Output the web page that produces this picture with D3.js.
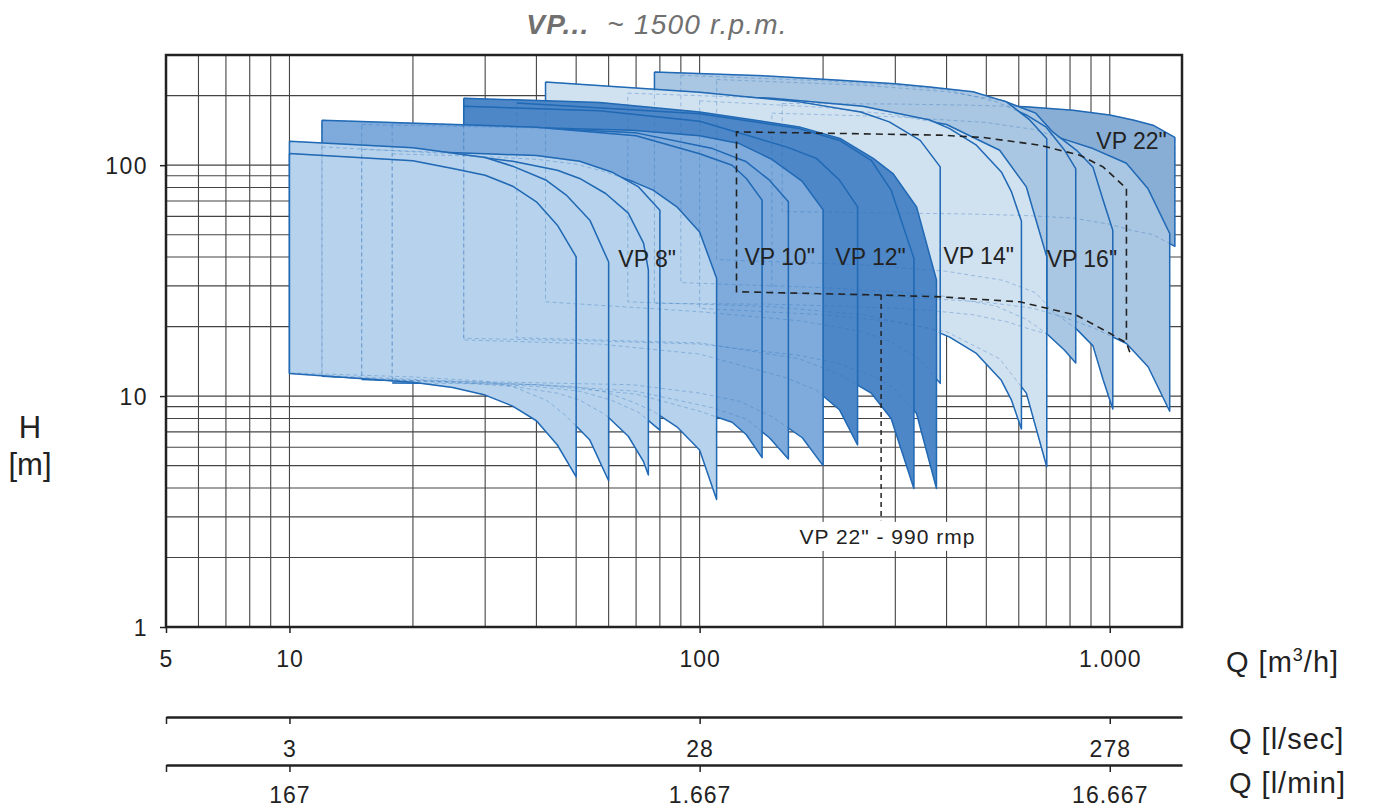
<!DOCTYPE html>
<html>
<head>
<meta charset="utf-8">
<script src="https://cdn.jsdelivr.net/npm/d3@7"></script>
<style>
  body { margin: 0; background: #fff; }
</style>
</head>
<body>
<div id="plot"></div>
<script>
// axis ticks and labels
const qTicks = [5, 10, 100, 1000];
const qLabels = ["5", "10", "100", "1.000"];
const lsLabels = ["", "3", "28", "278"];
const lmLabels = ["", "167", "1.667", "16.667"];
const hTicks = [1, 10, 100];
const hLabels = ["1", "10", "100"];
const qGrid = [6, 7, 8, 9, 10, 20, 30, 40, 50, 60, 70, 80, 90, 100, 200, 300, 400, 500, 600, 700, 800, 900, 1000];
const hGrid = [2, 3, 4, 5, 6, 7, 8, 9, 10, 20, 30, 40, 50, 60, 70, 80, 90, 100, 200];

// pump fields: q = flow [m3/h], top = head with max stages [m], bot = head with one stage [m]
const vp22a = { q: [159, 300, 450, 626, 814, 1000, 1140, 1275, 1441], top: [185, 184, 182, 179, 173, 165, 157, 149, 132], bot: [63, 62, 61.5, 60.5, 59, 55.5, 52, 50, 44.5] };

const vp16d = { q: [150, 300, 500, 650, 769, 910, 1098, 1240, 1400], top: [168, 162, 153, 143, 130, 118, 102, 79, 50.6], bot: [28, 27, 25.5, 24, 22, 19.8, 16.9, 13.4, 8.6] };
const vp16c = { q: [110, 250, 400, 550, 660, 727, 830, 910, 963, 1017], top: [235, 222, 208, 190, 168, 139, 116, 98, 70.6, 52.3], bot: [39, 37, 34.7, 31.7, 28, 23.2, 19.5, 16.5, 11.8, 8.8] };
const vp16b = { q: [90, 200, 300, 400, 529, 626, 700, 776, 826], top: [245, 232, 222, 212, 188, 165, 146, 116, 96.7], bot: [31, 29.5, 28.3, 27, 24.5, 21.5, 18.7, 15.8, 13.9] };
const vp16a = { q: [77.6, 150, 220, 300, 364, 464, 560, 638, 702], top: [253, 243, 233, 225, 218, 208, 188, 157, 130], bot: [25.2, 25, 24.5, 24, 23.5, 22.5, 21, 19.5, 18.6] };

const vp14c = { q: [100, 200, 300, 400, 539, 626, 702], top: [190, 178, 165, 150, 116, 80.5, 40.1], bot: [24, 22.5, 21, 19, 14.5, 10.3, 4.94] };
const vp14b = { q: [66.8, 150, 250, 364, 407, 473, 544, 576, 609], top: [205, 195, 180, 157, 144, 122, 93.5, 76.6, 57.2], bot: [25.6, 24.4, 22.5, 19.6, 18, 15.3, 11.7, 9.6, 7.2] };
const vp14a = { q: [42.1, 100, 175, 247, 290, 345, 386], top: [229, 207, 188, 170, 154, 128, 98.3], bot: [25.6, 23.2, 21.2, 19.1, 17.3, 14.4, 11.35] };

const vp12c = { q: [26.6, 57, 100, 175, 220, 265, 296, 338, 378], top: [195, 187, 170, 146.5, 130.5, 107, 92, 66, 31.8], bot: [17.8, 17.3, 16.8, 15, 13.8, 12.2, 10.9, 8.4, 3.98] };
const vp12b = { q: [35.8, 100, 175, 219.5, 262, 293, 333], top: [186, 167, 144, 128, 105, 78, 39.5], bot: [17.9, 17, 14.5, 12.4, 10.3, 8, 3.98] };
const vp12a = { q: [26.6, 57, 100, 162.6, 192.6, 219.5, 242.7], top: [180, 172, 155, 120, 107, 86, 66], bot: [17.5, 16.8, 15.2, 12, 10.6, 8.7, 6.14] };

const vp10c = { q: [17.8, 32.5, 68.6, 100, 125, 150, 178, 200], top: [152, 146.5, 141.7, 134, 124, 106, 85, 64], bot: [11.7, 11.5, 11.2, 10.3, 9.5, 8.15, 6.6, 5.0] };
const vp10b = { q: [15, 40, 70, 107.6, 130, 148, 164.6], top: [150, 145, 138, 118, 103.4, 86.1, 69.4], bot: [11.9, 11.2, 10.5, 8.9, 7.95, 6.6, 5.34] };
const vp10a = { q: [12, 40, 70, 100, 120, 130, 142], top: [156.6, 146, 134, 112, 100, 87.6, 70.6], bot: [12.3, 11.2, 10.2, 8.6, 7.7, 6.8, 5.41] };

const vp8e = { q: [17.8, 30, 40, 50, 59, 69, 77, 88, 100, 110], top: [112, 109, 106, 101, 93.5, 84.7, 78, 66, 51.4, 32.4], bot: [11.4, 11.3, 11.2, 11.0, 10.4, 9.4, 8.6, 7.36, 5.84, 3.57] };
const vp8d = { q: [15, 30, 40, 51, 61, 71, 80], top: [117, 112, 110, 104, 93.5, 80.5, 63.8], bot: [11.8, 11.3, 11.0, 10.5, 9.6, 8.5, 7.12] };
const vp8c = { q: [12, 25, 35, 45, 51, 59, 67, 73, 75], top: [120, 112, 104, 95, 87.6, 75.4, 62, 46, 35.1], bot: [12.2, 11.5, 11.0, 10.3, 9.6, 8.3, 6.7, 5.2, 4.55] };
const vp8b = { q: [10, 20, 30, 35, 42.3, 47.3, 54, 60], top: [127, 119, 108, 99, 86, 74.2, 57.8, 38.1], bot: [12.6, 12.1, 11.6, 11.0, 9.6, 8.2, 6.45, 4.3] };
const vp8a = { q: [10, 20, 25, 30, 35, 40, 45, 50], top: [112.4, 104.4, 96.7, 90.5, 81.1, 69.4, 55, 40.1], bot: [12.54, 11.47, 10.9, 10.1, 9.05, 7.82, 6.14, 4.47] };

// VP 22" at 990 rpm (dashed black field)
const rpmTopQ = [123, 220, 386, 491, 675, 845, 963, 1098];
const rpmTopH = [139.4, 137.2, 134.9, 131.8, 122.1, 110.4, 98.3, 79.3];
const rpmBotQ = [123, 275, 386, 603, 830, 1000, 1098, 1119];
const rpmBotH = [28.3, 27.4, 26.9, 25.6, 22.4, 18.7, 17.0, 15.5];
const leaderQ = 277;
const leaderH = [27.4, 2.9];

// family labels: text, flow, head
const famLabels = [
  ['VP 8"', 74.5, 36.4],
  ['VP 10"', 156.7, 36.9],
  ['VP 12"', 261, 36.9],
  ['VP 14"', 479, 37.3],
  ['VP 16"', 855, 36.2],
  ['VP 22"', 1130, 117.3]
];

// back to front
const families = [
  { fill: '#88aed6', models: [vp22a] },
  { fill: '#a9c6e2', models: [vp16d, vp16c, vp16b, vp16a] },
  { fill: '#d0e1f0', models: [vp14c, vp14b, vp14a] },
  { fill: '#4d87c7', models: [vp12c, vp12b, vp12a] },
  { fill: '#7eabdc', models: [vp10c, vp10b, vp10a] },
  { fill: '#b6d2ec', models: [vp8e, vp8d, vp8c, vp8b, vp8a] }
];
const solidLeft = new Set([vp8a, vp8b, vp10a, vp12c, vp12a, vp14a, vp16a]);

const font = "'Liberation Sans', Arial, Helvetica, sans-serif";
const ink = '#222';

let svg = d3.select('#plot').append('svg')
  .attr('width', 1376)
  .attr('height', 809)
  .style('background', '#fff');

let x = d3.scaleLog().domain([5, 1500]).range([166, 1182]);
let y = d3.scaleLog().domain([1, 300]).range([627, 55]);

// grid
let grid = svg.append('g');
grid.selectAll('line.v').data(qGrid).enter().append('line')
  .attr('x1', d => x(d)).attr('x2', d => x(d))
  .attr('y1', y(300)).attr('y2', y(1))
  .attr('stroke', '#444').attr('stroke-width', 1.1);
grid.selectAll('line.h').data(hGrid).enter().append('line')
  .attr('x1', x(5)).attr('x2', x(1500))
  .attr('y1', d => y(d)).attr('y2', d => y(d))
  .attr('stroke', '#444').attr('stroke-width', 1.1);

// pump fields
const line = d3.line().x(d => x(d[0])).y(d => y(d[1]));
function fieldPts(m) {
  const top = m.q.map((q, i) => [q, m.top[i]]);
  const bot = m.q.map((q, i) => [q, m.bot[i]]).reverse();
  return top.concat(bot);
}

let fields = svg.append('g');
families.forEach(f => {
  f.models.forEach(m => {
    const pts = fieldPts(m);
    fields.append('path')
      .attr('d', line(pts) + 'Z')
      .attr('fill', f.fill);
    const edge = solidLeft.has(m) ? pts.concat([pts[0]]) : pts;
    fields.append('path')
      .attr('d', line(edge))
      .attr('fill', 'none')
      .attr('stroke', '#1f68b4')
      .attr('stroke-width', 1.5)
      .attr('stroke-linejoin', 'round');
  });
});

// hidden outlines shown dashed
families.forEach(f => {
  f.models.forEach(m => {
    fields.append('path')
      .attr('d', line(fieldPts(m)) + 'Z')
      .attr('fill', 'none')
      .attr('stroke', '#2a6fba')
      .attr('stroke-opacity', 0.35)
      .attr('stroke-width', 1)
      .attr('stroke-dasharray', '4,3');
  });
});

// frame
svg.append('rect')
  .attr('x', x(5)).attr('y', y(300))
  .attr('width', x(1500) - x(5)).attr('height', y(1) - y(300))
  .attr('fill', 'none').attr('stroke', ink).attr('stroke-width', 2.5);

// axes
function styleAxis(g, baseline) {
  g.attr('font-family', font).attr('font-size', 23);
  g.selectAll('text').attr('fill', ink).attr('dy', null).attr('y', baseline).style('letter-spacing', '1px');
  g.selectAll('line').attr('stroke', ink).attr('stroke-width', 1.5);
}

let xAxis = svg.append('g')
  .attr('transform', `translate(0,${y(1)})`)
  .call(d3.axisBottom(x).tickValues(qTicks).tickSize(6).tickSizeOuter(0).tickFormat((d, i) => qLabels[i]));
xAxis.select('.domain').remove();
styleAxis(xAxis, 40);

let yAxis = svg.append('g')
  .attr('transform', `translate(${x(5)},0)`)
  .call(d3.axisLeft(y).tickValues(hTicks).tickSize(6).tickSizeOuter(0).tickFormat((d, i) => hLabels[i]));
yAxis.select('.domain').remove();
yAxis.attr('font-family', font).attr('font-size', 23);
yAxis.selectAll('text').attr('fill', ink).attr('x', -18).attr('dy', '0.36em').style('letter-spacing', '1.5px');
yAxis.selectAll('line').attr('stroke', ink).attr('stroke-width', 1.5);

let lsAxis = svg.append('g')
  .attr('transform', 'translate(0,717)')
  .call(d3.axisBottom(x).tickValues(qTicks).tickSize(7).tickSizeOuter(0).tickFormat((d, i) => lsLabels[i]));
lsAxis.select('.domain').attr('stroke', ink).attr('stroke-width', 2.5);
styleAxis(lsAxis, 40);

let lmAxis = svg.append('g')
  .attr('transform', 'translate(0,765)')
  .call(d3.axisBottom(x).tickValues(qTicks).tickSize(7).tickSizeOuter(0).tickFormat((d, i) => lmLabels[i]));
lmAxis.select('.domain').attr('stroke', ink).attr('stroke-width', 2.5);
styleAxis(lmAxis, 38);

// unit labels
function unit(txt, xx, yy) {
  return svg.append('text')
    .attr('x', xx).attr('y', yy)
    .attr('font-family', font).attr('font-size', 29)
    .attr('fill', ink).style('letter-spacing', '1px')
    .text(txt);
}
let qm = unit('Q [m', 1226, 672);
qm.append('tspan').attr('font-size', 18).attr('dy', -11).text('3');
qm.append('tspan').attr('dy', 11).text('/h]');
unit('Q [l/sec]', 1229, 749);
unit('Q [l/min]', 1229, 793);

svg.append('text').attr('x', 30).attr('y', 438)
  .attr('text-anchor', 'middle').attr('font-family', font).attr('font-size', 31).attr('fill', ink)
  .text('H');
svg.append('text').attr('x', 30).attr('y', 475)
  .attr('text-anchor', 'middle').attr('font-family', font).attr('font-size', 31).attr('fill', ink)
  .text('[m]');

// title
let title = svg.append('text')
  .attr('x', 657).attr('y', 34)
  .attr('text-anchor', 'middle')
  .attr('font-family', font).attr('font-size', 28)
  .attr('font-style', 'italic').attr('fill', '#707070')
  .style('letter-spacing', '1.2px')
  .style('white-space', 'pre');
title.append('tspan').attr('font-weight', 'bold').text('VP...');
title.append('tspan').text('  ~ 1500 r.p.m.');

// VP 22" 990 rpm field
const rpmPts = rpmBotQ.map((q, i) => [q, rpmBotH[i]]).reverse()
  .concat(rpmTopQ.map((q, i) => [q, rpmTopH[i]]))
  .concat([[rpmTopQ[rpmTopQ.length - 1], rpmBotH[rpmBotQ.length - 2]]]);
svg.append('path')
  .attr('d', line(rpmPts))
  .attr('fill', 'none').attr('stroke', ink)
  .attr('stroke-width', 1.6).attr('stroke-dasharray', '7,5');
svg.append('path')
  .attr('d', line(leaderH.map(h => [leaderQ, h])))
  .attr('fill', 'none').attr('stroke', ink)
  .attr('stroke-width', 1.5).attr('stroke-dasharray', '5,4');

// labels
svg.selectAll('text.fam').data(famLabels).enter().append('text')
  .attr('class', 'fam')
  .attr('x', d => x(d[1])).attr('y', d => y(d[2]))
  .attr('text-anchor', 'middle')
  .attr('font-family', font).attr('font-size', 23)
  .attr('fill', ink)
  .text(d => d[0]);

let rpmLabel = svg.append('g');
let rpmText = rpmLabel.append('text')
  .attr('x', x(287)).attr('y', y(2.29))
  .attr('text-anchor', 'middle')
  .attr('font-family', font).attr('font-size', 21)
  .attr('fill', ink).style('letter-spacing', '1px')
  .text('VP 22" - 990 rmp');
let bb = rpmText.node().getBBox();
rpmLabel.insert('rect', 'text')
  .attr('x', bb.x - 6).attr('y', bb.y - 3)
  .attr('width', bb.width + 12).attr('height', bb.height + 6)
  .attr('fill', '#fff');
</script>
</body>
</html>
